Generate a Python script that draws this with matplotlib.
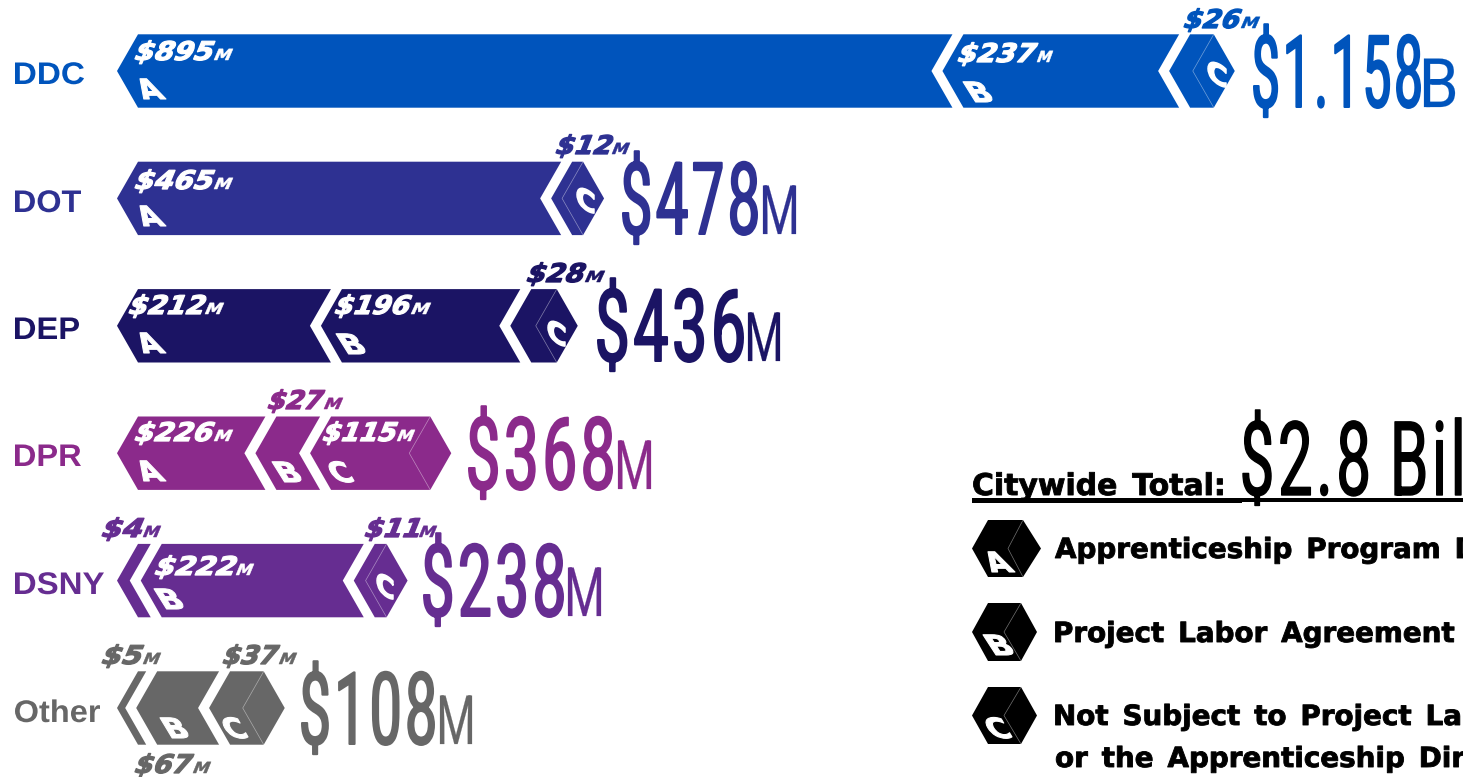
import matplotlib
matplotlib.use("Agg")
import numpy as np
import matplotlib.pyplot as plt
from matplotlib.patches import Polygon, Rectangle
from matplotlib.path import Path
from matplotlib.patheffects import AbstractPathEffect
from matplotlib.transforms import Affine2D

# ---- data ----
departments = ["DDC", "DOT", "DEP", "DPR", "DSNY", "Other"]
totals = ["$1.158", "$478", "$436", "$368", "$238", "$108"]
total_units = ["B", "M", "M", "M", "M", "M"]
colors = ["#0054BC", "#2E3192", "#1B1464", "#8B2A8B", "#662D91", "#676767"]

ddc_values = [895, 237, 26]
dot_values = [465, 12]
dep_values = [212, 196, 28]
dpr_values = [226, 27, 115]
dsny_values = [4, 222, 11]
other_values = [5, 67, 37]

# drawn bar lengths (differ from the printed label in places)
ddc_lengths = [895, 237, 26]
dot_lengths = [465, 12]
dep_lengths = [212, 196, 28]
dpr_lengths = [140, 48, 109]
dsny_lengths = [14, 222, 13]
other_lengths = [9, 68, 37]

ddc_letters = ["A", "B", "C"]
dot_letters = ["A", "C"]
dep_letters = ["A", "B", "C"]
dpr_letters = ["A", "B", "C"]
dsny_letters = ["", "B", "C"]
other_letters = ["", "B", "C"]

all_values = [ddc_values, dot_values, dep_values, dpr_values, dsny_values, other_values]
all_lengths = [ddc_lengths, dot_lengths, dep_lengths, dpr_lengths, dsny_lengths, other_lengths]
all_letters = [ddc_letters, dot_letters, dep_letters, dpr_letters, dsny_letters, other_letters]

legend_letters = ["A", "B", "C"]
EN = "\u2002"
legend_lines = [f"Apprenticeship{EN}Program{EN}D", f"Project{EN}Labor{EN}Agreement",
                f"Not{EN}Subject{EN}to{EN}Project{EN}La", f"or{EN}the{EN}Apprenticeship{EN}Dir"]
total_title = f"Citywide{EN}Total:"
total_value = "$2.8 Bil"

# ---- layout (pixels) ----
W, H = 1463, 777
PX_PER_M = 0.91
X0_PX = 138
ROW0_PX, ROW_STEP_PX = 71.0, 127.4
HALF = 36.7 / ROW_STEP_PX
DEPTH = 21 / PX_PER_M
GAP = 11 / PX_PER_M

# (digits left, digits right, M right, baseline) per segment
label_layout = [
    [(135, 215, 233, 60), (958, 1038, 1053, 62), (1184, 1242, 1260, 28)],
    [(135, 215, 233, 189), (556, 613, 630, 154)],
    [(129, 206, 224, 314), (335, 412, 431, 314), (527, 586, 605, 282)],
    [(135, 215, 233, 441), (268, 325, 343, 409), (323, 398, 415, 441)],
    [(102, 144, 161, 537), (155, 237, 254, 575), (365, 420, 437, 537)],
    [(102, 144, 161, 664), (135, 194, 211, 773), (223, 280, 297, 664)],
]
# (left, right, baseline, right-face?) per segment letter
letter_layout = [
    [(140, 166, 99, False), (963, 992, 102, False), (1208, 1226, 78, True)],
    [(140, 166, 226, False), (577, 594, 204, True)],
    [(140, 166, 353, False), (336, 365, 354, False), (548, 565, 337, True)],
    [(140, 166, 481, False), (272, 301, 482, False), (329, 354, 482, False)],
    [None, (154, 183, 609, False), (377, 393, 590, True)],
    [None, (160, 188, 738, False), (223, 248, 738, False)],
]
total_layout = [(1254, 1420, 1424, 1455, 107), (623, 757, 763, 796, 234),
                (598, 743, 748, 780, 361), (469, 612, 618, 651, 489),
                (424, 563, 568, 601, 616), (302, 434, 440, 472, 744)]
dept_layout = [(15, 84, 84), (15, 81, 212), (15, 79, 339), (15, 81, 466), (15, 104, 594), (15, 100, 722)]
legend_hex = [(972, 988, 1023, 1008, 1041, 520, 577), (972, 988, 1021, 1004, 1037, 603, 661),
              (972, 988, 1021, 1004, 1037, 687, 744)]
legend_letter_layout = [(988, 1015, 572), (983, 1013, 655), (986, 1012, 738)]
legend_line_layout = [(1055, 558), (1053, 642), (1053, 725), (1055, 767)]


def tracked(path, amount):
    """Open the letter spacing of a text path: glyphs are x-disjoint groups of contours."""
    verts, codes = path.vertices.copy(), path.codes
    starts = list(np.flatnonzero(codes == Path.MOVETO)) + [len(codes)]
    spans = []
    for a, b in zip(starts[:-1], starts[1:]):
        real = codes[a:b] != Path.CLOSEPOLY
        xs = verts[a:b][real, 0]
        spans.append((xs.min(), xs.max(), a, b))
    spans.sort()
    k, reach = -1, -np.inf
    for lo, hi, a, b in spans:
        if lo > reach:
            k += 1
        reach = max(reach, hi)
        verts[a:b, 0] += k * amount
    return Path(verts, codes)


class Glyphs(AbstractPathEffect):
    """Affine-shaped text: stretch to a pixel span, shear, track, optional heavier stroke."""

    def __init__(self, left=None, right=None, shear=0.0, vshear=0.0, stroke=0.0, track=0.0, tall=1.0):
        super().__init__()
        self.left, self.right = left, right
        self.shear, self.vshear, self.stroke, self.track, self.tall = shear, vshear, stroke, track, tall

    def draw_path(self, renderer, gc, tpath, affine, rgbFace=None):
        if self.track:
            tpath = tracked(tpath, self.track)
        ox, oy = affine.transform((0, 0))
        full = (affine + Affine2D().translate(-ox, -oy)
                + Affine2D.from_values(1, self.vshear, self.shear, self.tall, 0, 0)
                + Affine2D().translate(ox, oy))
        if self.left is not None and self.right is not None:
            ext = tpath.transformed(full).get_extents()
            full = full + (Affine2D().translate(-ext.x0, 0)
                           .scale((self.right - self.left) / ext.width, 1)
                           .translate(self.left, 0))
        gc0 = renderer.new_gc()
        gc0.copy_properties(gc)
        gc0.set_linewidth(self.stroke * 0.72)
        gc0.set_foreground(rgbFace)
        gc0.set_joinstyle("round")
        renderer.draw_path(gc0, tpath, full, rgbFace)
        gc0.restore()


fig = plt.figure(figsize=(W / 100, H / 100), dpi=100, facecolor="white")
ax = fig.add_axes([0, 0, 1, 1])
ax.set_xlim(-X0_PX / PX_PER_M, (W - X0_PX) / PX_PER_M)
ax.set_ylim((H - ROW0_PX) / ROW_STEP_PX, -ROW0_PX / ROW_STEP_PX)
ax.axis("off")
px = Affine2D().scale(1, -1).translate(0, H)  # text placed in pixels from top-left


def put(x, y, s, color, size, family, weight="bold", **fx):
    return ax.text(x, y, s, transform=px, color=color, fontsize=size, family=family, weight=weight,
                   ha="left", va="baseline", clip_on=False, path_effects=[Glyphs(**fx)])


HEAVY = "DejaVu Sans"
ARIAL = "Liberation Sans"
TALL = "Roboto"
LABEL_SHEAR = 0.38
LETTER_SHEAR = -0.55

for row, dept in enumerate(departments):
    color = colors[row]
    lengths, values, letters = all_lengths[row], all_values[row], all_letters[row]
    x = 0.0
    top, bot = row - HALF, row + HALF
    last = len(lengths) - 1
    for i, length in enumerate(lengths):
        x1 = x + length
        pts = [(x - DEPTH, row), (x, top), (x1, top)]
        pts.append((x1 + DEPTH, row) if i == last else (x1 - DEPTH, row))
        pts += [(x1, bot), (x, bot)]
        ax.add_patch(Polygon(pts, closed=True, facecolor=color, edgecolor="none", zorder=2))
        if i == last:
            ax.plot([x1, x1 - DEPTH, x1], [top, row, bot], color="white", lw=0.5, alpha=0.45, zorder=3)
        # value label
        left, right, m_right, base = label_layout[row][i]
        inside = ROW0_PX + ROW_STEP_PX * top < base < ROW0_PX + ROW_STEP_PX * bot
        c = "white" if inside else color
        put(left, base, f"${values[i]}", c, 18.5, HEAVY, left=left, right=right, shear=LABEL_SHEAR, stroke=1.3)
        put(right - 1, base, "M", c, 11, HEAVY, left=right - 1, right=m_right, shear=LABEL_SHEAR, stroke=0.5)
        # segment letter
        if letter_layout[row][i] is not None:
            l, r, b, face = letter_layout[row][i]
            if face:
                put(l, b, letters[i], "white", 20, HEAVY, left=l, right=r, vshear=-0.55, stroke=1.5)
            else:
                put(l + 11, b, letters[i], "white", 20, HEAVY, left=l, right=r, shear=LETTER_SHEAR, stroke=1.1)
        x = x1 + GAP

    # department name
    l, r, b = dept_layout[row]
    put(l, b, dept, color, 22.5, ARIAL, left=l, right=r)
    # large total and unit (natural width close to the drawn one; height stretched)
    l, r, ul, ur, base = total_layout[row]
    put(l, base, totals[row], color, 37, TALL, weight="normal", left=l, right=r, stroke=2.0, track=6, tall=1.95)
    put(ul, base, total_units[row], color, 27, TALL, weight="normal", left=ul, right=ur, stroke=0.2, tall=49 / 27)

# citywide total block
put(972, 495, total_title, "black", 21.5, HEAVY, stroke=0.9)
put(1243, 495, total_value, "black", 38, TALL, weight="normal", left=1243, right=1461, stroke=1.4, track=6, tall=1.95)
ax.add_patch(Rectangle((972, 498), 270, 5, transform=px, facecolor="black", edgecolor="none"))
ax.add_patch(Rectangle((1242, 498), 221, 4, transform=px, facecolor="black", edgecolor="none"))

# legend hexagons
for k, (x0, x1, x2, xn, x3, y0, y1) in enumerate(legend_hex):
    ym = (y0 + y1) / 2
    ax.add_patch(Polygon([(x0, ym), (x1, y0), (x2, y0), (x3, ym), (x2, y1), (x1, y1)], closed=True,
                         transform=px, facecolor="black", edgecolor="none"))
    ax.plot([x2, xn, x2], [y0, ym, y1], transform=px, color="white", lw=0.5, alpha=0.45)
    l, r, b = legend_letter_layout[k]
    put(l + 11, b, legend_letters[k], "white", 20, HEAVY, left=l, right=r, shear=LETTER_SHEAR, stroke=1.1)

for s, (lx, ly) in zip(legend_lines, legend_line_layout):
    put(lx, ly, s, "black", 20, HEAVY, stroke=0.9)

fig.savefig("out.png", dpi=100, facecolor="white")
